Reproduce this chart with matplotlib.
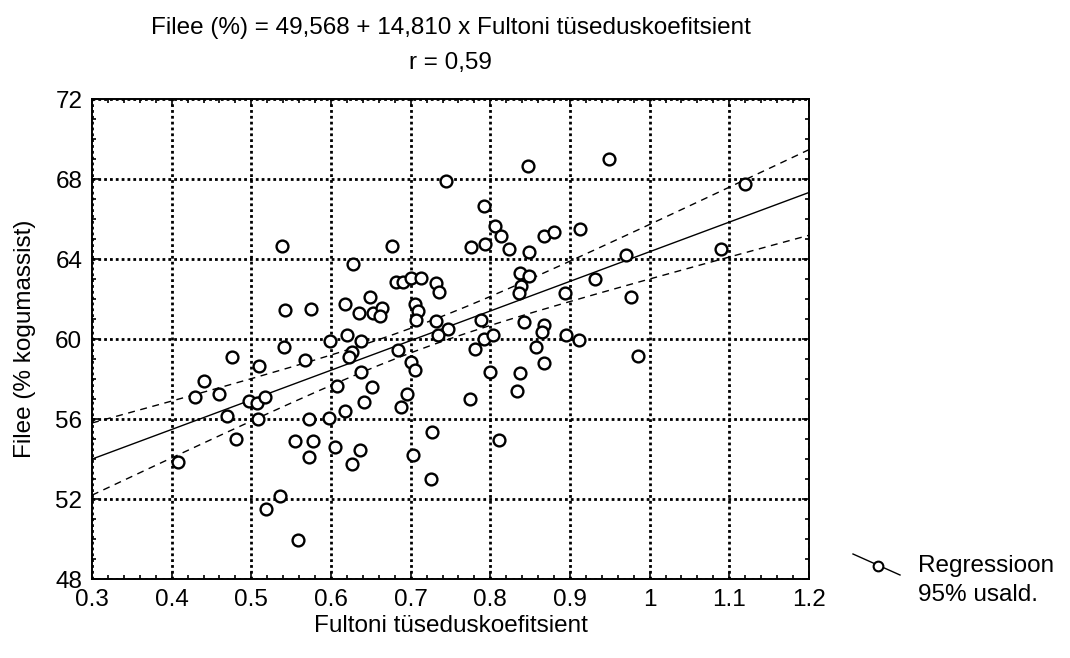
import numpy as np
import matplotlib
matplotlib.use("Agg")
import matplotlib.pyplot as plt
from matplotlib.lines import Line2D

plt.rcParams['font.family'] = ['Liberation Sans', 'DejaVu Sans']

# Fultoni tüseduskoefitsient (x) and Filee % (y)
fulton = [0.847, 0.745, 0.792, 0.806, 0.814, 0.867, 0.880, 0.677, 0.776, 0.793,
          0.823, 0.849, 0.628, 0.837, 0.849, 0.838, 0.836, 0.894, 0.681, 0.690,
          0.700, 0.713, 0.732, 0.735, 0.618, 0.649, 0.635, 0.653, 0.664, 0.662,
          0.706, 0.709, 0.707, 0.732, 0.747, 0.788, 0.842, 0.868, 0.865, 0.599,
          0.620, 0.638, 0.734, 0.792, 0.804, 0.627, 0.623, 0.684, 0.638, 0.700,
          0.706, 0.607, 0.652, 0.642, 0.696, 0.688, 0.598, 0.618, 0.605, 0.636,
          0.627, 0.703, 0.727, 0.726, 0.781, 0.800, 0.775, 0.811, 0.837, 0.833,
          0.857, 0.867, 0.895, 0.911, 0.986, 0.949, 1.120, 0.913, 0.970, 1.090,
          0.932, 0.977, 0.539, 0.542, 0.575, 0.541, 0.476, 0.568, 0.509, 0.441,
          0.429, 0.460, 0.497, 0.507, 0.517, 0.470, 0.508, 0.481, 0.572, 0.555,
          0.577, 0.573, 0.408, 0.536, 0.519, 0.559]
filee = [68.67, 67.93, 66.66, 65.66, 65.17, 65.18, 65.38, 64.67, 64.62, 64.78,
         64.50, 64.37, 63.78, 63.33, 63.18, 62.68, 62.31, 62.33, 62.87, 62.85,
         63.05, 63.05, 62.80, 62.38, 61.78, 62.10, 61.30, 61.30, 61.57, 61.18,
         61.78, 61.40, 60.97, 60.93, 60.53, 60.95, 60.87, 60.70, 60.38, 59.90,
         60.20, 59.93, 60.20, 60.02, 60.20, 59.37, 59.10, 59.46, 58.35, 58.85,
         58.47, 57.67, 57.63, 56.85, 57.25, 56.60, 56.06, 56.40, 54.60, 54.47,
         53.78, 54.22, 55.37, 53.00, 59.53, 58.37, 57.00, 54.97, 58.30, 57.43,
         59.60, 58.80, 60.20, 59.95, 59.17, 69.03, 67.78, 65.50, 64.23, 64.53,
         63.03, 62.10, 64.65, 61.48, 61.51, 59.60, 59.12, 58.98, 58.67, 57.93,
         57.12, 57.27, 56.92, 56.83, 57.13, 56.18, 56.03, 55.02, 56.03, 54.92,
         54.92, 54.12, 53.85, 52.15, 51.53, 49.97]

intercept = 49.568
slope = 14.810

x_ticks = [0.3, 0.4, 0.5, 0.6, 0.7, 0.8, 0.9, 1.0, 1.1, 1.2]
x_ticklabels = ['0.3', '0.4', '0.5', '0.6', '0.7', '0.8', '0.9', '1', '1.1', '1.2']
y_ticks = [48, 52, 56, 60, 64, 68, 72]

x = np.array(fulton)
y = np.array(filee)
n = len(x)

# regression line and 95% confidence band for the mean
xx = np.linspace(0.3, 1.2, 200)
yy = intercept + slope * xx
resid = y - (intercept + slope * x)
s = np.sqrt(np.sum(resid ** 2) / (n - 2))
sxx = np.sum((x - x.mean()) ** 2)
half = 1.983 * s * np.sqrt(1.0 / n + (xx - x.mean()) ** 2 / sxx)

fs = 17.5

fig = plt.figure(figsize=(10.7, 6.58), dpi=100)
ax = fig.add_axes([0.086, 0.1196, 0.670, 0.7295])

ax.plot(xx, yy, color='black', lw=1.0, zorder=3)
ax.plot(xx, yy + half, color='black', lw=1.0, ls=(0, (5, 4)), zorder=3)
ax.plot(xx, yy - half, color='black', lw=1.0, ls=(0, (5, 4)), zorder=3)
ax.plot(x, y, 'o', ms=8.5, mfc='white', mec='black', mew=1.7, zorder=4)

ax.set_xlim(0.3, 1.2)
ax.set_ylim(48, 72)
ax.set_xticks(x_ticks)
ax.set_xticklabels(x_ticklabels)
ax.set_yticks(y_ticks)
ax.set_xticks(np.arange(0.3, 1.2001, 0.02), minor=True)
ax.set_yticks(np.arange(48, 72.001, 1), minor=True)
ax.tick_params(which='both', direction='in', top=True, right=True, labelsize=fs, width=1.2)
ax.tick_params(which='major', length=5, pad=7)
ax.tick_params(which='minor', length=3)
ax.grid(True, which='major', color='black', ls=(0, (1, 1.1)), lw=2.0)
for sp in ax.spines.values():
    sp.set_linewidth(1.4)

ax.set_xlabel('Fultoni tüseduskoefitsient', fontsize=fs, labelpad=3)
ax.set_ylabel('Filee (% kogumassist)', fontsize=fs, labelpad=14)

fig.text(0.421, 0.958, 'Filee (%) = 49,568 + 14,810 x Fultoni tüseduskoefitsient',
         ha='center', va='center', fontsize=fs)
fig.text(0.421, 0.905, 'r = 0,59', ha='center', va='center', fontsize=fs)

# legend drawn outside the axes
fig.add_artist(Line2D([853 / 1070, 900 / 1070], [1 - 554 / 658, 1 - 575 / 658],
                      color='black', lw=1.0, transform=fig.transFigure))
fig.add_artist(Line2D([878 / 1070], [1 - 566 / 658], marker='o', ms=7, mfc='white',
                      mec='black', mew=1.5, transform=fig.transFigure))
fig.text(918 / 1070, 1 - 566 / 658, 'Regressioon', ha='left', va='center', fontsize=fs)
fig.text(918 / 1070, 1 - 595 / 658, '95% usald.', ha='left', va='center', fontsize=fs)

fig.savefig('out.png', dpi=100)
